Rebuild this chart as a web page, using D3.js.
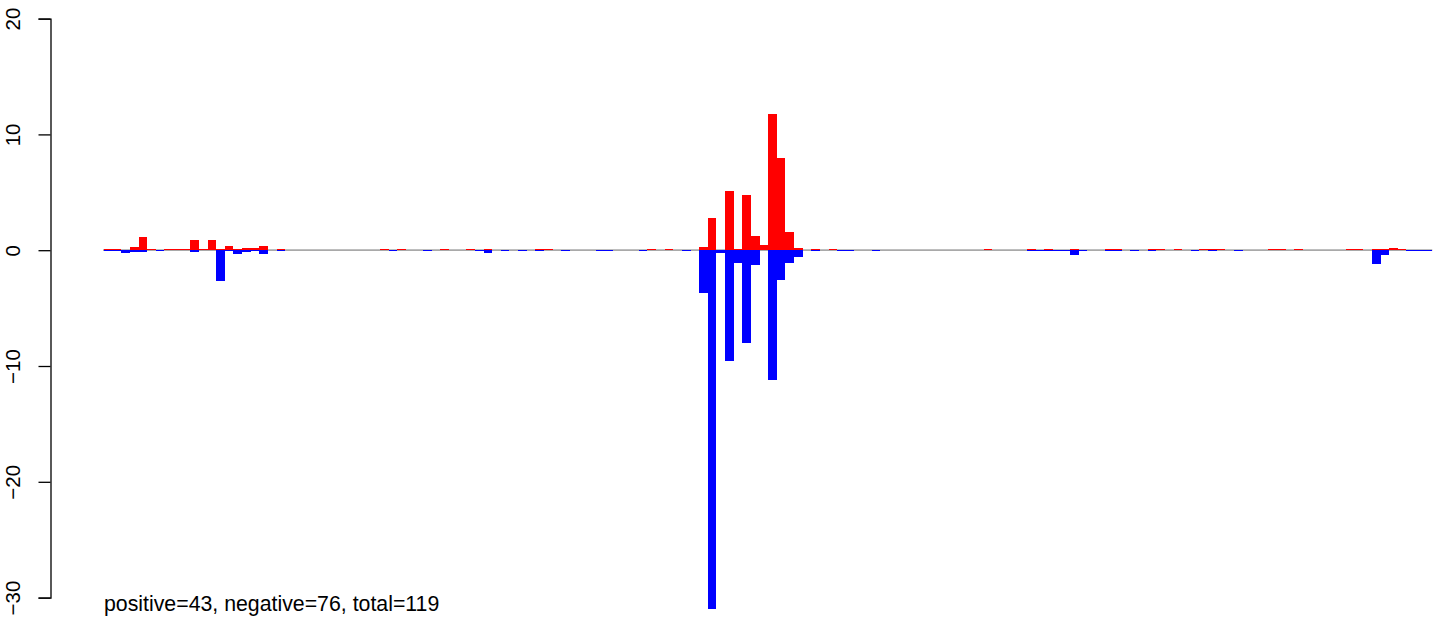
<!DOCTYPE html>
<html>
<head>
<meta charset="utf-8">
<script src="https://cdn.jsdelivr.net/npm/d3@7"></script>
<style>
  html, body { margin: 0; padding: 0; background: #fff; }
  svg { display: block; font-family: "Liberation Sans", Arial, Helvetica, sans-serif; }
</style>
</head>
<body>
<svg id="chart" width="1444" height="620"></svg>
<script>
// ---- data (one value per bin, 154 bins) ----
const positiveValues = [
  0.08, 0.08, 0, 0.29, 1.1, 0.08, 0, 0.08, 0.08, 0.08,
  0.86, 0.08, 0.92, 0.08, 0.38, 0.1, 0.19, 0.19, 0.36, 0,
  0.08, 0, 0, 0, 0, 0, 0, 0, 0, 0,
  0, 0, 0.08, 0, 0.08, 0, 0, 0, 0, 0.08,
  0, 0, 0.08, 0, 0.08, 0, 0, 0, 0, 0,
  0.08, 0.08, 0, 0, 0, 0, 0, 0, 0, 0,
  0, 0, 0, 0.08, 0, 0.08, 0, 0, 0, 0.3,
  2.81, 0, 5.14, 0.1, 4.79, 1.25, 0.45, 11.76, 7.96, 1.57,
  0.22, 0, 0.08, 0, 0.08, 0, 0, 0, 0, 0,
  0, 0, 0, 0, 0, 0, 0, 0, 0, 0,
  0, 0, 0.08, 0, 0, 0, 0, 0.08, 0, 0.08,
  0, 0, 0.08, 0, 0, 0, 0.08, 0.08, 0, 0,
  0, 0.08, 0.08, 0, 0.08, 0, 0, 0.08, 0.08, 0.08,
  0, 0, 0, 0, 0, 0.08, 0.08, 0, 0.08, 0,
  0, 0, 0, 0.05, 0.1, 0.1, 0.05, 0.1, 0.1, 0.22,
  0.1, 0, 0, 0
];
const negativeValues = [
  -0.08, -0.08, -0.26, -0.14, -0.14, 0, -0.07, 0, 0, 0,
  -0.14, 0, 0, -2.64, -0.05, -0.29, -0.17, -0.1, -0.37, 0,
  -0.08, 0, 0, 0, 0, 0, 0, 0, 0, 0,
  0, 0, 0, -0.08, 0, 0, 0, -0.08, 0, 0,
  0, 0, 0, -0.08, -0.21, 0, -0.08, 0, -0.08, 0,
  -0.08, 0, 0, -0.08, 0, 0, 0, -0.08, -0.08, 0,
  0, 0, -0.08, 0, 0, 0, 0, -0.08, 0, -3.67,
  -30.96, -0.27, -9.54, -1.13, -7.99, -1.25, 0, -11.18, -2.55, -1.08,
  -0.56, 0, -0.08, 0, 0, -0.08, -0.08, 0, 0, -0.08,
  0, 0, 0, 0, 0, 0, 0, 0, 0, 0,
  0, 0, 0, 0, 0, 0, 0, -0.08, -0.08, -0.08,
  -0.08, -0.08, -0.39, -0.08, 0, 0, -0.08, -0.08, 0, -0.08,
  0, -0.08, 0, 0, 0, 0, -0.08, 0, -0.08, 0,
  0, -0.08, 0, 0, 0, 0, 0, 0, 0, 0,
  0, 0, 0, 0, 0, 0, 0, -1.16, -0.39, 0,
  0, -0.08, -0.08, -0.08
];
const yTicks = [-30, -20, -10, 0, 10, 20];
const summaryLabel = "positive=43, negative=76, total=119";

// ---- drawing ----
const svg = d3.select("#chart");
const nBins = positiveValues.length;

const x = d3.scaleLinear().domain([0, nBins]).range([104, 1432.25]);
const y = d3.scaleLinear().domain([-30, 20]).range([597.6, 18.6]);

// zero reference line
svg.append("line")
  .attr("x1", x(0) - 1).attr("x2", x(nBins))
  .attr("y1", y(0)).attr("y2", y(0))
  .attr("stroke", "#A9A9A9").attr("stroke-width", 1.8);

const idx = d3.range(nBins);

svg.append("g").selectAll("rect")
  .data(idx.filter(i => positiveValues[i] !== 0))
  .join("rect")
  .attr("x", i => x(i))
  .attr("width", i => x(i + 1) - x(i))
  .attr("y", i => y(positiveValues[i]))
  .attr("height", i => y(0) - y(positiveValues[i]))
  .attr("fill", "#FF0000")
  .attr("shape-rendering", "crispEdges");

svg.append("g").selectAll("rect")
  .data(idx.filter(i => negativeValues[i] !== 0))
  .join("rect")
  .attr("x", i => x(i))
  .attr("width", i => x(i + 1) - x(i))
  .attr("y", y(0))
  .attr("height", i => y(negativeValues[i]) - y(0))
  .attr("fill", "#0000FF")
  .attr("shape-rendering", "crispEdges");

// y axis
const axis = d3.axisLeft(y).tickValues(yTicks).tickSize(12).tickPadding(6)
  .tickFormat(d => d < 0 ? "\u2212" + Math.abs(d) : String(d));
const gAxis = svg.append("g").attr("transform", "translate(50.5,0)").call(axis);
gAxis.select(".domain").attr("stroke", "#000").attr("stroke-width", 1.3);
gAxis.selectAll(".tick line").attr("stroke", "#000").attr("stroke-width", 1.3);
gAxis.selectAll(".tick text")
  .attr("font-size", 20.5)
  .attr("font-family", "'Liberation Sans', Arial, Helvetica, sans-serif")
  .attr("fill", "#000")
  .attr("text-anchor", "middle")
  .attr("dy", null)
  .attr("x", null)
  .attr("transform", "translate(-30.5,0) rotate(-90)");

// summary text
svg.append("text")
  .attr("x", x(0))
  .attr("y", 610.5)
  .attr("font-size", 21.3)
  .attr("fill", "#000")
  .text(summaryLabel);
</script>
</body>
</html>
